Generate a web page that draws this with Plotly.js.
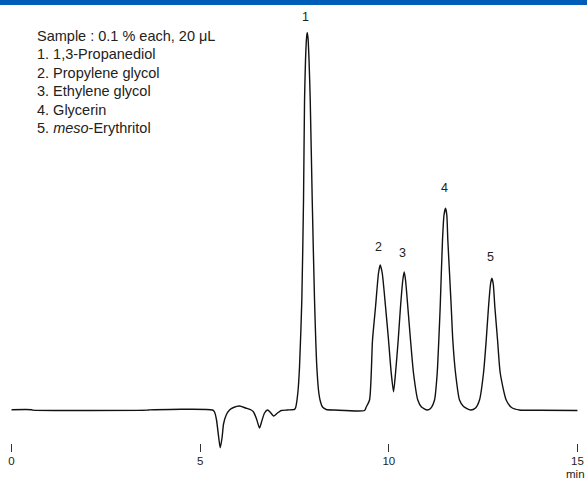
<!DOCTYPE html>
<html>
<head>
<meta charset="utf-8">
<script src="https://cdn.plot.ly/plotly-3.0.1.min.js"></script>
<style>html,body{margin:0;padding:0;background:#fff;}#chart{width:587px;height:479px;}</style>
</head>
<body>
<div id="chart"></div>
<script>
// Retention time (min)
const timeMin = [0.000,0.530,0.557,3.605,3.658,5.327,5.380,5.433,5.486,5.531,5.579,5.619,5.690,5.778,5.884,6.043,6.202,6.353,6.414,6.494,6.573,6.626,6.706,6.785,6.865,6.944,7.050,7.148,7.315,7.501,
  7.527,7.588,7.633,7.694,7.739,7.766,7.792,7.819,7.837,7.858,7.885,7.917,7.970,8.031,8.092,8.145,8.190,8.243,8.341,8.561,
  9.356,9.401,9.489,9.568,9.648,9.727,9.772,9.825,9.913,9.992,10.064,10.125,10.178,10.249,10.310,10.371,10.408,10.443,10.503,10.575,10.654,10.768,10.866,11.017,
  11.105,11.211,11.283,11.325,11.362,11.423,11.463,11.503,11.537,11.564,11.609,11.654,11.696,11.768,11.874,11.980,12.166,
  12.298,12.404,12.510,12.582,12.643,12.696,12.731,12.768,12.810,12.882,12.953,13.111,13.252,13.464,13.994,15.000];
// Detector response (arbitrary units)
const signal = [0.3,0.3,-0.1,-0.1,0.1,0,-2,-10,-26,-37.7,-28,-14,-5,0,2.5,4,2,0,-2,-9,-18,-12,-3,0,-2.5,-6,-3,-0.5,0,0.7,
  2,17,43,110,210,310,350,372,377.3,372,350,310,210,110,43,17,8,3,0.5,0,
  -0.5,3,10,70,103.3,137,145,137,103.3,70,37,18.3,37,70,103.3,130,138,130,103.3,70,37,10,3,0,
  1.5,10,37,70,103.3,170,195,201.7,195,170,137,103.3,70,37,10,3.5,0,
  2,10,37,70,103.3,126,131.7,126,103.3,70,37,10,2.5,0,-0.3,-0.5];

const peakNumbers = ["1","2","3","4","5"];
const peakTimes = [7.837, 9.772, 10.408, 11.503, 12.731];
const peakHeights = [377.3, 145, 138, 201.7, 131.7];

const legendLines = [
  "Sample : 0.1 % each, 20 μL",
  "1. 1,3-Propanediol",
  "2. Propylene glycol",
  "3. Ethylene glycol",
  "4. Glycerin",
  "5. <i>meso</i>-Erythritol"
];

const tickValues = [0, 5, 10, 15];
const tickLabels = ["0", "5", "10", "15"];
const xUnit = "min";

const FONT = '"Liberation Sans", Arial, Helvetica, sans-serif';
const TXT = '#222';

const annotations = [];
const legendTop = 36, legendStep = 18.4; // px from top
const plotTop = 6, plotH = 446, yMin = -42, yMax = 404;
legendLines.forEach((t, i) => {
  const py = legendTop + i * legendStep;
  annotations.push({
    xref: 'x', yref: 'paper',
    x: 0.62, y: 1 - (py - plotTop) / plotH,
    xanchor: 'left', yanchor: 'middle',
    text: t, showarrow: false,
    font: {family: FONT, size: 14.5, color: TXT}
  });
});
const labelShift = [16, 18, 19, 20, 21];
peakNumbers.forEach((n, i) => {
  annotations.push({
    x: peakTimes[i] - 0.04, y: peakHeights[i],
    xanchor: 'center', yanchor: 'middle', yshift: labelShift[i],
    text: n, showarrow: false,
    font: {family: FONT, size: 12.5, color: TXT}
  });
});
annotations.push({
  xref: 'x', yref: 'paper', x: tickValues[tickValues.length - 1], y: 0,
  xanchor: 'center', yanchor: 'top', xshift: -2, yshift: -14,
  text: xUnit, showarrow: false,
  font: {family: FONT, size: 11.5, color: TXT}
});

const trace = {
  x: timeMin, y: signal, type: 'scatter', mode: 'lines',
  line: {color: '#111', width: 1.4, shape: 'spline', smoothing: 0.6},
  hoverinfo: 'skip', cliponaxis: false
};

const layout = {
  width: 587, height: 479,
  margin: {l: 4, r: 2, t: plotTop, b: 479 - plotTop - plotH, pad: 0},
  paper_bgcolor: '#fff', plot_bgcolor: 'rgba(0,0,0,0)',
  showlegend: false,
  xaxis: {
    range: [-0.2, 15.2], tickvals: tickValues, ticktext: tickLabels,
    ticks: 'inside', ticklen: 8, tickwidth: 1, tickcolor: '#333',
    showline: false, showgrid: false, zeroline: false,
    tickfont: {family: FONT, size: 11.5, color: TXT}, fixedrange: true
  },
  yaxis: {
    range: [yMin, yMax], visible: false, showgrid: false, zeroline: false, fixedrange: true
  },
  shapes: [{
    type: 'rect', xref: 'paper', yref: 'paper',
    x0: -0.05, x1: 1.05,
    y0: 1 + (plotTop - 5) / plotH, y1: 1 + plotTop / plotH + 0.01,
    fillcolor: '#005eb8', line: {width: 0}, layer: 'above'
  }],
  annotations: annotations
};

Plotly.newPlot('chart', [trace], layout, {staticPlot: true, displayModeBar: false});
</script>
</body>
</html>
